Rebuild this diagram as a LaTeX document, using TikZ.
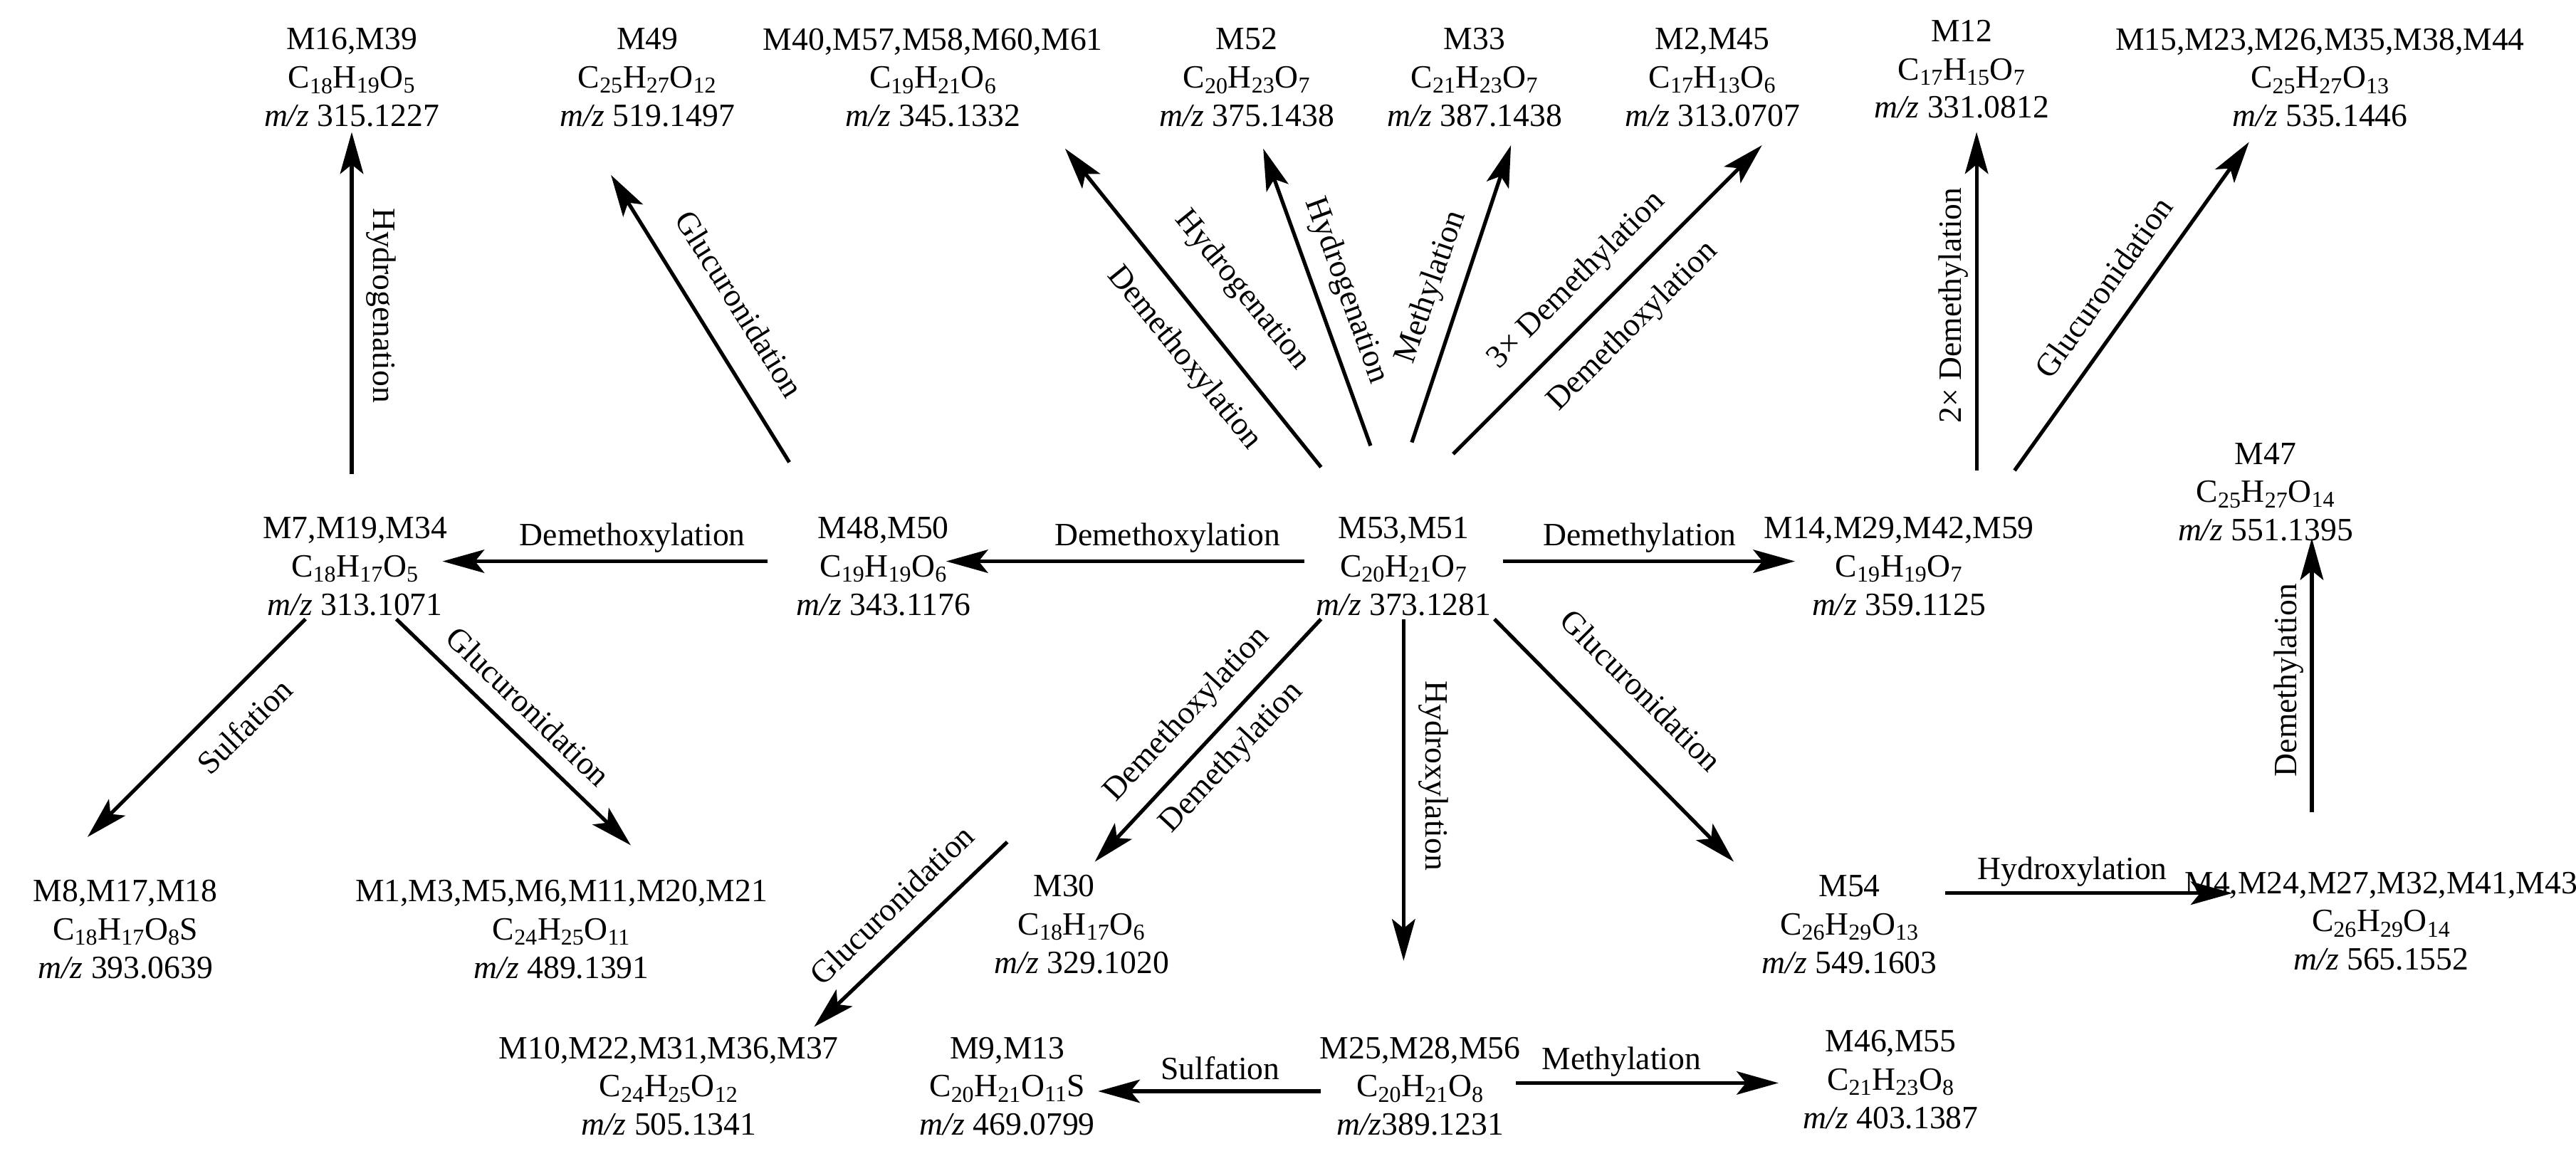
\documentclass[tikz,border=0pt]{standalone}
\usepackage{fontspec}
\setmainfont{Liberation Serif}
\usetikzlibrary{arrows.meta}
\newcommand{\s}[1]{\textsubscript{#1}}
\newcommand{\mz}{\textit{m/z}}
\begin{document}
\begin{tikzpicture}[x=0.05cm,y=-0.05cm,
  every node/.style={font=\fontsize{28}{33}\selectfont},
  cmp/.style={align=center,inner sep=0pt},
  arr/.style={line width=3.2pt,-{Stealth[length=36pt,width=20pt,inset=8pt]}},
  lab/.style={inner sep=0pt}]
\useasboundingbox (0,0) rectangle (1560,700.2);
% compounds
\node[cmp] (m16) at (213,47) {M16,M39\\C\s{18}H\s{19}O\s5\\\mz{} 315.1227};
\node[cmp] (m49) at (392,47) {M49\\C\s{25}H\s{27}O\s{12}\\\mz{} 519.1497};
\node[cmp] (m40) at (565,47) {M40,M57,M58,M60,M61\\C\s{19}H\s{21}O\s6\\\mz{} 345.1332};
\node[cmp] (m52) at (755,47) {M52\\C\s{20}H\s{23}O\s7\\\mz{} 375.1438};
\node[cmp] (m33) at (893,47) {M33\\C\s{21}H\s{23}O\s7\\\mz{} 387.1438};
\node[cmp] (m2) at (1037,47) {M2,M45\\C\s{17}H\s{13}O\s6\\\mz{} 313.0707};
\node[cmp] (m12) at (1188,42) {M12\\C\s{17}H\s{15}O\s7\\\mz{} 331.0812};
\node[cmp] (m15) at (1405,47) {M15,M23,M26,M35,M38,M44\\C\s{25}H\s{27}O\s{13}\\\mz{} 535.1446};
\node[cmp] (m7) at (215,343) {M7,M19,M34\\C\s{18}H\s{17}O\s5\\\mz{} 313.1071};
\node[cmp] (m48) at (535,343) {M48,M50\\C\s{19}H\s{19}O\s6\\\mz{} 343.1176};
\node[cmp] (m53) at (850,343) {M53,M51\\C\s{20}H\s{21}O\s7\\\mz{} 373.1281};
\node[cmp] (m14) at (1150,343) {M14,M29,M42,M59\\C\s{19}H\s{19}O\s7\\\mz{} 359.1125};
\node[cmp] (m47) at (1372,298) {M47\\C\s{25}H\s{27}O\s{14}\\\mz{} 551.1395};
\node[cmp] (m8) at (76,563) {M8,M17,M18\\C\s{18}H\s{17}O\s8S\\\mz{} 393.0639};
\node[cmp] (m1) at (340,563) {M1,M3,M5,M6,M11,M20,M21\\C\s{24}H\s{25}O\s{11}\\\mz{} 489.1391};
\node[cmp] (m30) at (655,560) {M30\hspace*{30pt}\\C\s{18}H\s{17}O\s6\\\mz{} 329.1020};
\node[cmp] (m54) at (1120,560) {M54\\C\s{26}H\s{29}O\s{13}\\\mz{} 549.1603};
\node[cmp] (m4) at (1442,558) {M4,M24,M27,M32,M41,M43\\C\s{26}H\s{29}O\s{14}\\\mz{} 565.1552};
\node[cmp] (m10) at (405,658) {M10,M22,M31,M36,M37\\C\s{24}H\s{25}O\s{12}\\\mz{} 505.1341};
\node[cmp] (m9) at (610,658) {M9,M13\\C\s{20}H\s{21}O\s{11}S\\\mz{} 469.0799};
\node[cmp] (m25) at (860,658) {M25,M28,M56\\C\s{20}H\s{21}O\s8\\\mz{}389.1231};
\node[cmp] (m46) at (1145,654) {M46,M55\\C\s{21}H\s{23}O\s8\\\mz{} 403.1387};
% arrows
\draw[arr] (213,287) -- (213,80);
\node[lab,rotate=-90] at (231,185) {Hydrogenation};
\draw[arr] (478,280) -- (370,106);
\node[lab,rotate=-58] at (448,184) {Glucuronidation};
\draw[arr] (465,340) -- (268,340);
\node[lab] at (383,326) {Demethoxylation};
\draw[arr] (790,340) -- (573,340);
\node[lab] at (707,326) {Demethoxylation};
\draw[arr] (910,340) -- (1087,340);
\node[lab] at (993,326) {Demethylation};
\draw[arr] (800,283) -- (645,90);
\node[lab,rotate=-51] at (752,176) {Hydrogenation};
\node[lab,rotate=-51] at (717,217) {Demethoxylation};
\draw[arr] (830,270) -- (765,90);
\node[lab,rotate=-70] at (815,176) {Hydrogenation};
\draw[arr] (855,268) -- (915,88);
\node[lab,rotate=71] at (867,174) {Methylation};
\draw[arr] (880,275) -- (1067,88);
\node[lab,rotate=45] at (955,170) {3× Demethylation};
\node[lab,rotate=45] at (989,198) {Demethoxylation};
\draw[arr] (1197,285) -- (1197,80);
\node[lab,rotate=90] at (1183,185) {2× Demethylation};
\draw[arr] (1220,285) -- (1362,86);
\node[lab,rotate=54.6] at (1274,174) {Glucuronidation};
\draw[arr] (1400,492) -- (1400,326);
\node[lab,rotate=90] at (1386,412) {Demethylation};
\draw[arr] (185,375) -- (53,507);
\node[lab,rotate=45] at (148,440) {Sulfation};
\draw[arr] (240,375) -- (382,512);
\node[lab,rotate=-44] at (320,428) {Glucuronidation};
\draw[arr] (800,375) -- (663,522);
\node[lab,rotate=47] at (719,433) {Demethoxylation};
\node[lab,rotate=47] at (746,459) {Demethylation};
\draw[arr] (850,375) -- (850,582);
\node[lab,rotate=-90] at (868,470) {Hydroxylation};
\draw[arr] (905,375) -- (1050,522);
\node[lab,rotate=-45] at (994,418) {Glucuronidation};
\draw[arr] (1178,541) -- (1352,541);
\node[lab] at (1255,528) {Hydroxylation};
\draw[arr] (610,510) -- (493,622);
\node[lab,rotate=44] at (540,548) {Glucuronidation};
\draw[arr] (800,661) -- (665,661);
\node[lab] at (739,647) {Sulfation};
\draw[arr] (918,656) -- (1077,656);
\node[lab] at (982,643) {Methylation};
\end{tikzpicture}
\end{document}
